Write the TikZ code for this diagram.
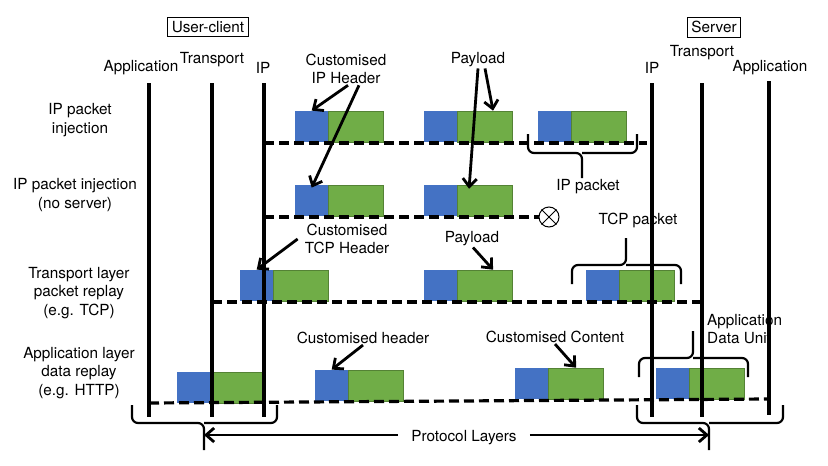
\documentclass[tikz,border=0pt]{standalone}
\usepackage{fontspec}
\setmainfont{TeX Gyre Heros}
\usetikzlibrary{arrows.meta}

\definecolor{hdrblue}{HTML}{4472C4}
\definecolor{paygreen}{HTML}{70AD47}

\begin{document}
\begin{tikzpicture}[x=1pt, y=-1pt,
    layer/.style={line width=3.4pt},
    wire/.style={line width=3.2pt, dash pattern=on 10pt off 5pt},
    hdr/.style={fill=hdrblue, minimum width=33pt, minimum height=31pt, inner sep=0pt, anchor=south west},
    pay/.style={fill=paygreen, draw=paygreen!75!black, line width=0.3pt, minimum width=55pt, minimum height=31pt, inner sep=0pt, anchor=south west},
    pointer/.style={-{Straight Barb[length=8pt, width=14pt]}, line width=2.8pt},
    curly/.style={line width=2.2pt, rounded corners=6pt},
    label_text/.style={font=\fontsize{15.3}{18.5}\selectfont, align=center, inner sep=1pt},
    hostbox/.style={label_text, draw, line width=0.6pt, inner sep=4pt}
]
\useasboundingbox (0,0) rectangle (828,466);

% Hosts and their protocol layers
\node[hostbox] (client) at (208,27) {User-client};
\node[hostbox] (server) at (714,27) {Server};

\node[label_text] (capp) at (141,68) {Application};
\node[label_text] (ctr)  at (212,60) {Transport};
\node[label_text] (cip)  at (263,68) {IP};
\node[label_text] (sip)  at (652,68) {IP};
\node[label_text] (str)  at (702,53) {Transport};
\node[label_text] (sapp) at (770,68) {Application};

% Row titles
\node[label_text] (row1) at (80,120) {IP packet\\injection};
\node[label_text] (row2) at (75,195) {IP packet injection\\(no server)};
\node[label_text] (row3) at (79,293) {Transport layer\\packet replay\\(e.g. TCP)};
\node[label_text] (row4) at (79,373) {Application layer\\data replay\\(e.g. HTTP)};

% Packets: header (blue) + payload (green)
\foreach \n/\x/\y in {a1/295/142, a2/424/142, a3/538/142, b1/295/216, b2/424/216,
                      c1/240/301, c2/424/301, c3/586/301,
                      d1/177/403, d2/315/401, d3/515/399, d4/656/399}
{
  \node[hdr] (\n-h) at (\x,\y) {};
  \node[pay] (\n-p) at (\n-h.south east) {};
}

% Vertical layer lines
\draw[layer] (149,83) -- (149,417);
\draw[layer] (212,83) -- (212,417);
\draw[layer] (264,83) -- (264,417);
\draw[layer] (652,83) -- (652,417);
\draw[layer] (702,83) -- (702,417);
\draw[layer] (769,81) -- (769,415);

% Dashed packet paths
\node[draw, circle, line width=1pt, minimum size=20pt, inner sep=0pt] (drop) at (549,217) {};
\draw[line width=1pt] (drop.45) -- (drop.225) (drop.135) -- (drop.315);
\draw[wire] (264,143) -- (647,143);
\draw[wire] (264,217) -- (drop.west);
\draw[wire] (212,302) -- (702,302);
\draw[wire] (149,403) -- (769,399);

% Annotations
\node[label_text] (iphdr) at (346,69) {Customised\\IP Header};
\node[label_text] (pay1) at (478,60) {Payload};
\node[label_text] (tcphdr) at (347,239) {Customised\\TCP Header};
\node[label_text] (pay2) at (472,239) {Payload};
\node[label_text] (cushdr) at (363,338) {Customised header};
\node[label_text] (cuscont) at (555,337) {Customised Content};
\node[label_text] (ippkt) at (588,187) {IP packet};
\node[label_text] (tcppkt) at (638,220) {TCP packet};
\node[label_text, align=left, anchor=west] (adu) at (706,329) {Application\\Data Unit};

\draw[pointer] ([xshift=2pt]iphdr.south) -- (a1-h.north);
\draw[pointer] ([xshift=13pt]iphdr.south) -- ([yshift=-3pt]b1-h.north);
\draw[pointer] ([xshift=7pt]pay1.south) -- ([xshift=8pt]a2-p.north);
\draw[pointer] (pay1.south) -- ([xshift=-16pt, yshift=-4pt]b2-p.north);
\draw[pointer] ([xshift=-6pt]tcphdr.west) -- (c1-h.north);
\draw[pointer] ([xshift=1pt]pay2.south) -- ([xshift=8pt]c2-p.north);
\draw[pointer] (cushdr.south) -- (d2-h.north);
\draw[pointer] (cuscont.south) -- (d3-p.north);

% Braces
\draw[curly] (528,134) |- (582,153) -- (582,178);
\draw[curly] (637,134) |- (582,153);
\draw[curly] (572,284) |- (626,265) -- (626,238);
\draw[curly] (681,284) |- (626,265);
\draw[curly] (639,377) |- (693,358) -- (693,331);
\draw[curly] (748,377) |- (693,358);

% Protocol layers braces
\coordinate (ltip) at (204,450);
\coordinate (rtip) at (709,450);
\draw[curly] (132,405) |- (204,423) -- (ltip);
\draw[curly] (277,405) |- (204,423);
\draw[curly] (637,405) |- (709,423) -- (rtip);
\draw[curly] (783,405) |- (709,423);
\node[label_text] (proto) at (464,438) {Protocol Layers};
\draw[pointer] ([xshift=-12pt, yshift=3pt]proto.west) -- ([yshift=3pt]ltip |- proto.west);
\draw[pointer] ([xshift=12pt, yshift=3pt]proto.east) -- ([yshift=3pt]rtip |- proto.east);

\end{tikzpicture}
\end{document}
